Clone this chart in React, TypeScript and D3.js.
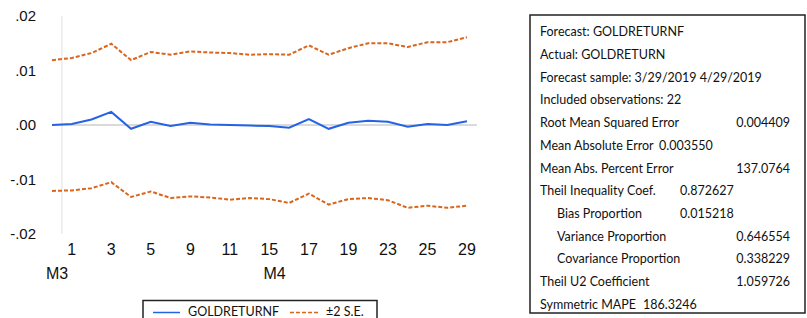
import { scaleLinear, line } from "d3";

// observation days (3/29/2019 .. 4/29/2019)
const days = [29, 1, 2, 3, 4, 5, 8, 9, 10, 11, 12, 15, 16, 17, 18, 19, 22, 23, 24, 25, 26, 29];
const monthLabels = [
  { label: "M3", index: 0 },
  { label: "M4", index: 11 },
];

const forecast = [
  0.0000, 0.0002, 0.0010, 0.0024, -0.0007, 0.0006, -0.0002, 0.0004, 0.0001, 0.0000, -0.0001,
  -0.0002, -0.0005, 0.0011, -0.0007, 0.0004, 0.0008, 0.0006, -0.0003, 0.0002, 0.0000, 0.0007,
];
const upperSE = [
  0.0119, 0.0123, 0.0132, 0.0149, 0.0119, 0.0134, 0.0129, 0.0135, 0.0133, 0.0132, 0.0129,
  0.0130, 0.0129, 0.0146, 0.0129, 0.0141, 0.0150, 0.0150, 0.0143, 0.0152, 0.0152, 0.0161,
];
const lowerSE = [
  -0.0121, -0.0120, -0.0116, -0.0105, -0.0132, -0.0122, -0.0134, -0.0131, -0.0133, -0.0137, -0.0134,
  -0.0136, -0.0143, -0.0126, -0.0146, -0.0136, -0.0134, -0.0138, -0.0152, -0.0148, -0.0152, -0.0148,
];

const yTicks = [0.02, 0.01, 0, -0.01, -0.02];
const yTickLabels = [".02", ".01", ".00", "-.01", "-.02"];

const statLabels = [
  "Forecast: GOLDRETURNF",
  "Actual: GOLDRETURN",
  "Forecast sample: 3/29/2019 4/29/2019",
  "Included observations: 22",
  "Root Mean Squared Error",
  "Mean Absolute Error",
  "Mean Abs. Percent Error",
  "Theil Inequality Coef.",
  "Bias Proportion",
  "Variance Proportion",
  "Covariance Proportion",
  "Theil U2 Coefficient",
  "Symmetric MAPE",
];
const statValues = ["", "", "", "", "0.004409", "0.003550", "137.0764", "0.872627", "0.015218", "0.646554", "0.338229", "1.059726", "186.3246"];
// layout: indent flag and value placement (790 = right aligned column)
const statIndent = [0, 0, 0, 0, 0, 0, 0, 0, 1, 1, 1, 0, 0];
const statValueX = [0, 0, 0, 0, 790, 659, 790, 680, 680, 790, 790, 790, 643];

const BLUE = "#2463e6";
const ORANGE = "#d9661c";

export default function App() {
  const x = scaleLinear().domain([0, days.length - 1]).range([52, 467]);
  const y = scaleLinear().domain([-0.02, 0.02]).range([234, 16]);
  const step = x(1) - x(0);

  const path = line<number>()
    .x((_, i) => x(i))
    .y((d) => y(d));

  const axisFont = "'Liberation Sans', Arial, sans-serif";
  const boxFont = "Lato, 'Open Sans', sans-serif";

  return (
    <svg
      width={807}
      height={318}
      style={{ position: "absolute", left: 0, top: 0, background: "#fff" }}
    >
      {/* month separator */}
      <line
        x1={x(0) + step / 2}
        x2={x(0) + step / 2}
        y1={y(0.02)}
        y2={y(-0.02)}
        stroke="#ebebeb"
        strokeWidth={1.5}
      />
      {/* zero line */}
      <line x1={x(0)} x2={x(days.length - 1) + step / 2} y1={y(0)} y2={y(0)} stroke="#b5b5b5" strokeWidth={1} />

      {/* y tick labels */}
      {yTicks.map((t, i) => (
        <text
          key={i}
          x={36}
          y={y(t)}
          dy="0.35em"
          textAnchor="end"
          fontFamily={axisFont}
          fontSize={15}
          fill="#111"
        >
          {yTickLabels[i]}
        </text>
      ))}

      {/* x tick labels */}
      {days.map((d, i) =>
        i % 2 === 1 ? (
          <text key={i} x={x(i)} y={255} textAnchor="middle" fontFamily={axisFont} fontSize={16} fill="#111">
            {d}
          </text>
        ) : null
      )}
      {monthLabels.map((m) => (
        <text key={m.label} x={x(m.index) - 6} y={279} fontFamily={axisFont} fontSize={16} fill="#111">
          {m.label}
        </text>
      ))}

      {/* series */}
      <path d={path(upperSE) ?? ""} fill="none" stroke={ORANGE} strokeWidth={2} strokeDasharray="4,2" />
      <path d={path(lowerSE) ?? ""} fill="none" stroke={ORANGE} strokeWidth={2} strokeDasharray="4,2" />
      <path d={path(forecast) ?? ""} fill="none" stroke={BLUE} strokeWidth={2} />

      {/* legend */}
      <rect x={143} y={300.5} width={234} height={30} fill="#fff" stroke="#222" strokeWidth={1.5} />
      <line x1={153} x2={180} y1={312.5} y2={312.5} stroke={BLUE} strokeWidth={1.5} />
      <text x={188} y={315.5} fontFamily={boxFont} fontSize={12.5} fill="#111">
        GOLDRETURNF
      </text>
      <line x1={290} x2={318} y1={312.5} y2={312.5} stroke={ORANGE} strokeWidth={1.5} strokeDasharray="4,2" />
      <text x={326} y={315.5} fontFamily={boxFont} fontSize={12.5} fill="#111">
        ±2 S.E.
      </text>

      {/* stats box */}
      <rect x={530} y={15} width={275} height={298} fill="#fff" stroke="#222" strokeWidth={1.5} />
      {statLabels.map((lab, i) => {
        const ty = 32 + i * 22.7;
        const v = statValues[i];
        return (
          <g key={i} fontFamily={boxFont} fontSize={12.5} fill="#111">
            <text x={statIndent[i] ? 557 : 540} y={ty} dy="0.35em">
              {lab}
            </text>
            {v ? (
              <text x={statValueX[i]} y={ty} dy="0.35em" textAnchor={statValueX[i] === 790 ? "end" : "start"}>
                {v}
              </text>
            ) : null}
          </g>
        );
      })}
    </svg>
  );
}
